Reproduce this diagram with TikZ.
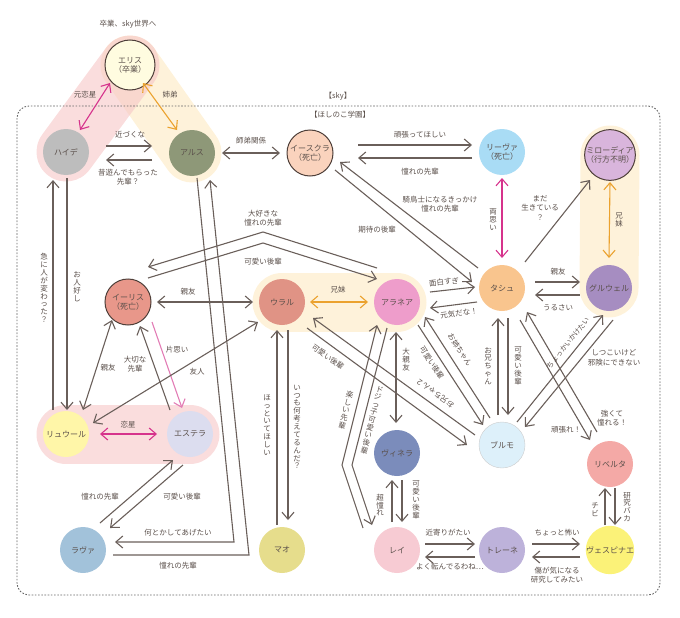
\documentclass[tikz,border=0pt]{standalone}
\usepackage{fontspec}
\setmainfont{Noto Sans CJK JP}
\usetikzlibrary{arrows.meta,backgrounds}

\definecolor{ln}{HTML}{6A5F5A}
\definecolor{txt}{HTML}{5A4F4A}
\definecolor{rim}{HTML}{4E3F39}
\definecolor{mag}{HTML}{D6338C}
\definecolor{pnk}{HTML}{E27CB5}
\definecolor{org}{HTML}{EBA22E}
\definecolor{pband}{HTML}{F6C6C6}
\definecolor{yband}{HTML}{FEF2DA}

% vertical (tate) text
\newtoks\tatetoks
\def\tate#1{\tatetoks{}\tateloop#1\relax\vbox{\baselineskip=1.05em\lineskiplimit=-100pt\the\tatetoks}}
\def\tateloop#1{\ifx\relax#1\else\tatetoks\expandafter{\the\tatetoks\hbox to 1em{\hss#1\hss}}\expandafter\tateloop\fi}

\tikzset{
  chara/.style={circle, minimum size=46pt, inner sep=0pt, align=center,
    font=\fontsize{8}{9}\selectfont},
  lost/.style={chara, draw=rim, line width=1pt},
  arr/.style={draw=ln, line width=1.1pt, -{Straight Barb[length=7pt,width=12pt]}},
  both/.style={arr, {Straight Barb[length=7pt,width=12pt]}-{Straight Barb[length=7pt,width=12pt]}},
  band/.style={line width=59pt, line cap=round},
  lbl/.style={inner sep=1pt, align=center},
}

\begin{document}
\begin{tikzpicture}[x=1pt, y=-1pt,
    every node/.style={font=\fontsize{7.5}{9.5}\selectfont, text=txt}]
    \useasboundingbox (0,0) rectangle (680,618);

    % school frame
    \draw[gray!80!black, line width=0.9pt, dash pattern=on 1.6pt off 1.6pt,
        rounded corners=12pt] (17,106) rectangle (660,595);
    \node[lbl] (sky) at (338,96) {【sky】};
    \node[lbl] (school) at (340,115) {【ほしのこ学園】};
    \node[lbl] (grad) at (128,24) {卒業、sky世界へ};

    % characters
    \node[lost, fill={rgb,255:red,255;green,252;blue,224}, minimum size=50pt] (eris) at (130,65) {エリス\\（卒業）};
    \node[chara, fill={rgb,255:red,189;green,189;blue,189}] (haide) at (66,152) {ハイデ};
    \node[chara, fill={rgb,255:red,142;green,152;blue,120}] (arus) at (192,153) {アルス};
    \node[lost, fill={rgb,255:red,250;green,211;blue,189}] (isukura) at (310,153) {イースクラ\\（死亡）};
    \node[chara, fill={rgb,255:red,169;green,220;blue,245}] (riva) at (502,152) {リーヴァ\\（死亡）};
    \node[lost, fill={rgb,255:red,217;green,181;blue,220}] (mirodia) at (610,155) {ミローディア\\（行方不明）};
    \node[lost, fill={rgb,255:red,232;green,151;blue,138}] (iris) at (128,302) {イーリス\\（死亡）};
    \node[chara, fill={rgb,255:red,224;green,147;blue,133}] (ural) at (282,302) {ウラル};
    \node[chara, fill={rgb,255:red,238;green,157;blue,203}] (aranea) at (397,302) {アラネア};
    \node[chara, fill={rgb,255:red,249;green,197;blue,142}] (tashu) at (502,288) {タシュ};
    \node[chara, fill={rgb,255:red,166;green,141;blue,193}] (gurweru) at (609,288) {グルウェル};
    \node[chara, fill={rgb,255:red,255;green,246;blue,168}] (ryuru) at (66,434) {リュウール};
    \node[chara, fill={rgb,255:red,220;green,221;blue,239}] (estera) at (190,434) {エステラ};
    \node[chara, fill={rgb,255:red,123;green,140;blue,187}] (vinera) at (397,453) {ヴィネラ};
    \node[chara, fill={rgb,255:red,221;green,240;blue,250}, draw=gray!40] (burumo) at (502,445) {ブルモ};
    \node[chara, fill={rgb,255:red,244;green,169;blue,166}] (riberuta) at (610,464) {リベルタ};
    \node[chara, fill={rgb,255:red,162;green,194;blue,218}] (rava) at (83,550) {ラヴァ};
    \node[chara, fill={rgb,255:red,230;green,221;blue,140}] (mao) at (282,550) {マオ};
    \node[chara, fill={rgb,255:red,247;green,203;blue,211}] (rei) at (397,550) {レイ};
    \node[chara, fill={rgb,255:red,189;green,178;blue,218}] (torene) at (502,550) {トレーネ};
    \node[chara, fill={rgb,255:red,251;green,242;blue,120}] (vespinae) at (610,550) {ヴェスピナエ};

    % family / couple bands
    \begin{scope}[on background layer]
        \draw[band, yband] (eris.center) -- (arus.center);
        \draw[band, pband, opacity=0.6] (eris.center) -- (haide.center);
        \draw[band, yband] (ural.center) -- (aranea.center);
        \draw[band, yband] (mirodia.center) -- (gurweru.center);
        \draw[band, pband, opacity=0.6] (ryuru.center) -- (estera.center);
    \end{scope}

    % top
    \draw[both, mag] ([shift={(-20,18)}]eris.center) -- ([shift={(14,-22)}]haide.center);
    \draw[both, org] ([shift={(13,18)}]eris.center) -- ([shift={(-15,-23)}]arus.center);
    \node[lbl] at (85,95) {元恋星};
    \node[lbl] at (170,95) {姉弟};
    \draw[arr] ([shift={(40,-6)}]haide.center) -- ([shift={(-40,-7)}]arus.center);
    \draw[arr] ([shift={(-40,7)}]arus.center) -- ([shift={(40,8)}]haide.center);
    \node[lbl] at (130,135) {近づくな};
    \node[lbl] at (128,177) {昔遊んでもらった\\先輩？};
    \draw[both] ([shift={(30,0)}]arus.center) -- ([shift={(-30,0)}]isukura.center);
    \node[lbl] at (251,141) {師弟関係};
    \draw[arr] ([shift={(48,-8)}]isukura.center) -- ([shift={(-30,-7)}]riva.center);
    \draw[arr] ([shift={(-30,6)}]riva.center) -- ([shift={(48,5)}]isukura.center);
    \node[lbl] at (420,135) {頑張ってほしい};
    \node[lbl] at (420,172) {憧れの先輩};
    \draw[arr] ([shift={(-24,-20)}]tashu.center) -- ([shift={(30,9)}]isukura.center);
    \draw[arr] ([shift={(25,17)}]isukura.center) -- ([shift={(-30,-6)}]tashu.center);
    \node[lbl] at (440,204) {騎鳥士になるきっかけ\\憧れの先輩};
    \node[lbl] at (377,230) {期待の後輩};

    % right column
    \draw[both, mag] ([shift={(0,-30)}]tashu.center) -- ([shift={(0,26)}]riva.center);
    \node[lbl] at (493,220) {\tate{両思い}};
    \draw[arr] ([shift={(23,-26)}]tashu.center) -- ([shift={(-20,25)}]mirodia.center);
    \node[lbl] at (540,208) {まだ\\生きている\\？};
    \draw[both, org] ([shift={(0,27)}]mirodia.center) -- ([shift={(0,-30)}]gurweru.center);
    \node[lbl] at (619,220) {\tate{兄妹}};
    \draw[arr] ([shift={(33,-6)}]tashu.center) -- ([shift={(-29,-6)}]gurweru.center);
    \draw[arr] ([shift={(-29,7)}]gurweru.center) -- ([shift={(33,7)}]tashu.center);
    \node[lbl] at (558,272) {親友};
    \node[lbl] at (558,308) {うるさい};
    \draw[arr] ([shift={(33,-10)}]aranea.center) -- ([shift={(-27,-1)}]tashu.center);
    \draw[arr] ([shift={(-25,14)}]tashu.center) -- ([shift={(33,6)}]aranea.center);
    \node[lbl, rotate=6] at (444,282) {面白すぎ};
    \node[lbl, rotate=7] at (459,313) {元気だな！};

    % middle row
    \draw[both] ([shift={(29,0)}]iris.center) -- ([shift={(-29,0)}]ural.center);
    \node[lbl] at (188,292) {親友};
    \draw[both, org] ([shift={(28,0)}]ural.center) -- ([shift={(-29,0)}]aranea.center);
    \node[lbl] at (338,290) {兄妹};
    \coordinate (bendA) at (263,232);
    \coordinate (bendB) at (263,243);
    \draw[arr] ([shift={(-20,-34)}]aranea.center) -- (bendA) -- ([shift={(20,-35)}]iris.center);
    \draw[arr] ([shift={(20,-24)}]iris.center) -- (bendB) -- ([shift={(-20,-23)}]aranea.center);
    \node[lbl] at (263,218) {大好きな\\憧れの先輩};
    \node[lbl] at (263,262) {可愛い後輩};

    % left side
    \draw[arr] ([shift={(-13,-24)}]ryuru.center) -- ([shift={(-13,28)}]haide.center);
    \draw[arr] ([shift={(1,26)}]haide.center) -- ([shift={(1,-24)}]ryuru.center);
    \node[lbl] at (44,288) {\tate{急に人が変わった？}};
    \node[lbl] at (77,287) {\tate{お人好し}};
    \draw[both] ([shift={(-16,18)}]iris.center) -- ([shift={(17,-24)}]ryuru.center);
    \node[lbl] at (108,368) {親友};
    \draw[arr] ([shift={(-20,-24)}]estera.center) -- ([shift={(12,24)}]iris.center);
    \node[lbl] at (135,364) {大切な\\先輩};
    \draw[arr, pnk] ([shift={(24,20)}]iris.center) -- ([shift={(-8,-26)}]estera.center);
    \node[lbl] at (177,350) {片思い};
    \draw[both] ([shift={(27,-11)}]ryuru.center) -- ([shift={(-24,20)}]ural.center);
    \node[lbl] at (197,372) {友人};
    \draw[both, mag] ([shift={(34,0)}]ryuru.center) -- ([shift={(-33,0)}]estera.center);
    \node[lbl] at (128,425) {恋星};
    \draw[arr] ([shift={(17,-27)}]rava.center) -- ([shift={(-17,26)}]estera.center);
    \draw[arr] ([shift={(-7,31)}]estera.center) -- ([shift={(27,-22)}]rava.center);
    \node[lbl] at (100,497) {憧れの先輩};
    \node[lbl] at (182,497) {可愛い後輩};

    % long lines from アルス
    \coordinate (bendC) at (234,542);
    \coordinate (bendD) at (249,555);
    \draw[arr] ([shift={(5,25)}]arus.center) -- (bendC) -- ([shift={(32,-8)}]rava.center);
    \draw[arr] ([shift={(30,5)}]rava.center) -- (bendD) -- ([shift={(18,27)}]arus.center);
    \node[lbl] at (178,533) {何とかしてあげたい};
    \node[lbl] at (178,566) {憧れの先輩};

    % ウラル and マオ
    \draw[arr] ([shift={(-5,-25)}]mao.center) -- ([shift={(-5,28)}]ural.center);
    \draw[arr] ([shift={(6,28)}]ural.center) -- ([shift={(6,-30)}]mao.center);
    \node[lbl] at (267,425) {\tate{ほっといてほしい}};
    \node[lbl] at (297,427) {\tate{いつも何考えてるんだ？}};

    % ブルモ
    \draw[arr] ([shift={(-27,-10)}]burumo.center) -- ([shift={(31,16)}]ural.center);
    \draw[arr] ([shift={(25,26)}]ural.center) -- ([shift={(-35,0)}]burumo.center);
    \node[lbl, rotate=-36] at (328,357) {可愛い後輩};
    \node[lbl, rotate=144] at (435,393) {お兄ちゃん２};
    \draw[arr] ([shift={(21,23)}]aranea.center) -- ([shift={(-19,-20)}]burumo.center);
    \draw[arr] ([shift={(-12,-27)}]burumo.center) -- ([shift={(28,15)}]aranea.center);
    \node[lbl, rotate=-57] at (432,363) {可愛い後輩};
    \node[lbl, rotate=-57] at (460,350) {お姉ちゃん};
    \draw[arr] ([shift={(-4,-30)}]burumo.center) -- ([shift={(-4,30)}]tashu.center);
    \draw[arr] ([shift={(6,30)}]tashu.center) -- ([shift={(6,-30)}]burumo.center);
    \node[lbl] at (488,366) {\tate{お兄ちゃん}};
    \node[lbl] at (518,366) {\tate{可愛い後輩}};
    \draw[arr] ([shift={(-13,-32)}]riberuta.center) -- ([shift={(25,24)}]tashu.center);
    \draw[arr] ([shift={(18,32)}]tashu.center) -- ([shift={(-20,-24)}]riberuta.center);
    \node[lbl] at (612,418) {強くて\\憧れる！};
    \node[lbl] at (566,430) {頑張れ！};
    \draw[arr] ([shift={(15,-23)}]burumo.center) -- ([shift={(-6,27)}]gurweru.center);
    \draw[arr] ([shift={(4,32)}]gurweru.center) -- ([shift={(23,-18)}]burumo.center);
    \node[lbl, rotate=51, font=\fontsize{7}{8}\selectfont] at (568,343) {ちょっかいかけたい};
    \node[lbl] at (614,358) {しつこいけど\\邪険にできない};

    % アラネア and ヴィネラ, レイ
    \draw[both] ([shift={(-1,30)}]aranea.center) -- ([shift={(-1,-30)}]vinera.center);
    \node[lbl] at (406,360) {\tate{大親友}};
    \coordinate (bendE) at (342,465);
    \coordinate (bendF) at (352,465);
    \draw[arr] ([shift={(-34,-22)}]rei.center) -- (bendE) -- ([shift={(-20,23)}]aranea.center);
    \draw[arr] ([shift={(-10,26)}]aranea.center) -- (bendF) -- ([shift={(-25,-25)}]rei.center);
    \node[lbl, rotate=-14] at (346,410) {\tate{楽しい先輩}};
    \node[lbl, rotate=-14] at (372,420) {\tate{ドジっ子可愛い後輩}};

    % bottom row
    \draw[arr] ([shift={(-5,-28)}]rei.center) -- ([shift={(-5,27)}]vinera.center);
    \draw[arr] ([shift={(5,27)}]vinera.center) -- ([shift={(5,-28)}]rei.center);
    \node[lbl] at (380,505) {\tate{超憧れ}};
    \node[lbl] at (416,500) {\tate{可愛い後輩}};
    \draw[arr] ([shift={(28,-6)}]rei.center) -- ([shift={(-27,-6)}]torene.center);
    \draw[arr] ([shift={(-27,7)}]torene.center) -- ([shift={(28,7)}]rei.center);
    \node[lbl] at (448,533) {近寄りがたい};
    \node[lbl] at (450,567) {よく転んでるわね…};
    \draw[arr] ([shift={(30,-6)}]torene.center) -- ([shift={(-30,-6)}]vespinae.center);
    \draw[arr] ([shift={(-30,7)}]vespinae.center) -- ([shift={(30,7)}]torene.center);
    \node[lbl] at (557,533) {ちょっと怖い};
    \node[lbl] at (557,575) {傷が気になる\\研究してみたい};
    \draw[arr] ([shift={(-5,-25)}]vespinae.center) -- ([shift={(-5,24)}]riberuta.center);
    \draw[arr] ([shift={(5,24)}]riberuta.center) -- ([shift={(5,-25)}]vespinae.center);
    \node[lbl] at (595,510) {\tate{チビ}};
    \node[lbl] at (627,507) {\tate{研究バカ}};
\end{tikzpicture}
\end{document}
